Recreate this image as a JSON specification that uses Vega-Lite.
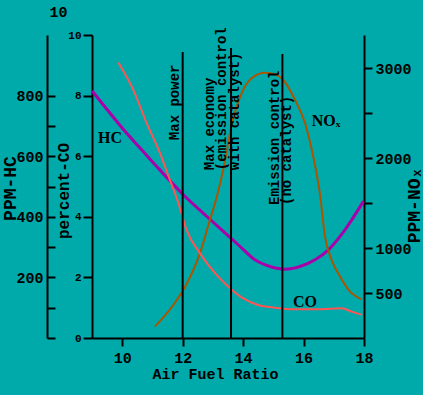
{
  "$schema": "https://vega.github.io/schema/vega-lite/v6.json",
  "width": 272,
  "height": 303,
  "autosize": {"type": "none"},
  "padding": {"left": 92, "top": 35, "right": 59, "bottom": 57},
  "background": "#00AAAA",
  "config": {
    "view": {"stroke": null},
    "axis": {
      "grid": false,
      "domainColor": "black",
      "domainWidth": 2,
      "tickColor": "black",
      "tickWidth": 2,
      "labelColor": "black",
      "titleColor": "black",
      "labelFont": "Liberation Mono",
      "titleFont": "Liberation Mono",
      "labelFontWeight": "bold",
      "titleFontWeight": "bold",
      "labelFlush": false,
      "labelOverlap": false
    }
  },
  "datasets": {
    "hc": [
      {"afr": 9.0, "ppm": 816}, {"afr": 9.37, "ppm": 770}, {"afr": 10.04, "ppm": 688},
      {"afr": 10.59, "ppm": 627}, {"afr": 11.14, "ppm": 566}, {"afr": 12.08, "ppm": 467},
      {"afr": 12.8, "ppm": 401}, {"afr": 13.4, "ppm": 347}, {"afr": 13.9, "ppm": 302},
      {"afr": 14.39, "ppm": 258}, {"afr": 14.89, "ppm": 236}, {"afr": 15.39, "ppm": 227},
      {"afr": 15.88, "ppm": 236}, {"afr": 16.38, "ppm": 258}, {"afr": 16.82, "ppm": 291},
      {"afr": 17.37, "ppm": 357}, {"afr": 17.98, "ppm": 451}
    ],
    "co": [
      {"afr": 9.87, "pct": 9.09}, {"afr": 10.37, "pct": 8.18}, {"afr": 10.81, "pct": 7.09},
      {"afr": 11.25, "pct": 6.1}, {"afr": 11.58, "pct": 5.21}, {"afr": 11.86, "pct": 4.45},
      {"afr": 12.13, "pct": 3.56}, {"afr": 12.57, "pct": 2.8}, {"afr": 13.07, "pct": 2.14},
      {"afr": 13.45, "pct": 1.75}, {"afr": 13.95, "pct": 1.34}, {"afr": 14.5, "pct": 1.09},
      {"afr": 15.06, "pct": 1.0}, {"afr": 15.72, "pct": 0.95}, {"afr": 16.6, "pct": 0.95},
      {"afr": 17.26, "pct": 0.98}, {"afr": 17.59, "pct": 0.87}, {"afr": 17.94, "pct": 0.76}
    ],
    "nox": [
      {"afr": 11.08, "ppm": 126}, {"afr": 11.69, "ppm": 367}, {"afr": 12.08, "ppm": 570},
      {"afr": 12.57, "ppm": 941}, {"afr": 12.9, "ppm": 1311}, {"afr": 13.13, "ppm": 1570},
      {"afr": 13.34, "ppm": 1867}, {"afr": 13.62, "ppm": 2367}, {"afr": 13.95, "ppm": 2719},
      {"afr": 14.28, "ppm": 2886}, {"afr": 14.72, "ppm": 2948}, {"afr": 15.06, "ppm": 2930},
      {"afr": 15.33, "ppm": 2867}, {"afr": 15.72, "ppm": 2644}, {"afr": 16.05, "ppm": 2386},
      {"afr": 16.32, "ppm": 2015}, {"afr": 16.54, "ppm": 1607}, {"afr": 16.71, "ppm": 1126},
      {"afr": 16.93, "ppm": 867}, {"afr": 17.21, "ppm": 681}, {"afr": 17.54, "ppm": 515},
      {"afr": 17.92, "ppm": 430}
    ],
    "markers": [
      {"afr": 12.0, "bottom": 0, "top": 9.44},
      {"afr": 13.6, "bottom": 0, "top": 9.57},
      {"afr": 15.3, "bottom": 0, "top": 9.37}
    ],
    "markerText": [
      {"afr": 11.87, "pos": 6.53, "text": "Max power"},
      {"afr": 13.04, "pos": 5.54, "text": "Max economy"},
      {"afr": 13.45, "pos": 5.54, "text": "(emission control"},
      {"afr": 13.85, "pos": 5.54, "text": "with catalyst)"},
      {"afr": 15.19, "pos": 4.39, "text": "Emission control"},
      {"afr": 15.6, "pos": 4.39, "text": "(no catalyst)"}
    ],
    "curveLabels": [
      {"afr": 9.2, "pos": 6.43, "text": "HC"},
      {"afr": 15.65, "pos": 1.03, "text": "CO"},
      {"afr": 16.27, "pos": 7.0, "text": "NOₓ"}
    ],
    "corner": [
      {"afr": 7.89, "pos": 10.59, "text": "10"}
    ]
  },
  "layer": [
    {
      "data": {"name": "hc"},
      "mark": {"type": "line", "color": "#AA00AA", "strokeWidth": 3, "interpolate": "monotone"},
      "encoding": {
        "x": {"field": "afr", "type": "quantitative", "scale": {"domain": [9, 18]}},
        "y": {
          "field": "ppm", "type": "quantitative",
          "scale": {"domain": [0, 1000], "nice": false},
          "axis": {
            "orient": "left", "offset": 45,
            "values": [0, 100, 200, 300, 400, 500, 600, 700, 800],
            "labelExpr": "datum.value > 0 && datum.value % 200 == 0 ? datum.label : ''",
            "tickSize": -8, "labelPadding": 12, "labelFontSize": 15, "labelBaseline": "middle",
            "title": "PPM-HC", "titleFontSize": 18, "titleX": -32, "titleY": 153,
            "titleAngle": 270, "titleAlign": "center", "titleBaseline": "alphabetic"
          }
        }
      }
    },
    {
      "data": {"name": "nox"},
      "mark": {"type": "line", "color": "#AA5500", "strokeWidth": 2, "interpolate": "monotone"},
      "encoding": {
        "x": {"field": "afr", "type": "quantitative", "scale": {"domain": [9, 18]}},
        "y": {
          "field": "ppm", "type": "quantitative",
          "scale": {"domain": [0, 3367], "nice": false},
          "axis": {
            "orient": "right", "format": "d",
            "values": [500, 1000, 1500, 2000, 2500, 3000],
            "labelExpr": "datum.value == 1500 || datum.value == 2500 ? '' : datum.label",
            "tickSize": 8, "labelPadding": 3, "labelFontSize": 15, "labelBaseline": "middle",
            "title": "PPM-NOₓ", "titleFontSize": 18, "titleX": 55, "titleY": 170,
            "titleAngle": 270, "titleAlign": "center", "titleBaseline": "alphabetic"
          }
        }
      }
    },
    {
      "layer": [
        {
          "data": {"name": "co"},
          "mark": {"type": "line", "color": "#FF5555", "strokeWidth": 2, "interpolate": "monotone"},
          "encoding": {
            "x": {
              "field": "afr", "type": "quantitative", "scale": {"domain": [9, 18]},
              "axis": {
                "values": [10, 11, 12, 13, 14, 15, 16, 17, 18],
                "labelExpr": "datum.value % 2 == 0 ? datum.label : ''",
                "tickSize": 8, "labelPadding": 16, "labelFontSize": 15, "labelBaseline": "alphabetic",
                "title": "Air Fuel Ratio", "titleFontSize": 15, "titleX": 123, "titleY": 40,
                "titleAlign": "center", "titleBaseline": "alphabetic"
              }
            },
            "y": {
              "field": "pct", "type": "quantitative",
              "scale": {"domain": [0, 10], "nice": false},
              "axis": {
                "orient": "left",
                "values": [0, 1, 2, 3, 4, 5, 6, 7, 8, 9, 10],
                "tickSize": 9, "labelPadding": 2, "labelFontSize": 11, "labelBaseline": "middle",
                "title": "percent-CO", "titleFontSize": 16, "titleX": -23.5, "titleY": 155.5,
                "titleAngle": 270, "titleAlign": "center", "titleBaseline": "alphabetic"
              }
            }
          }
        },
        {
          "data": {"name": "markers"},
          "mark": {"type": "rule", "color": "black", "strokeWidth": 2},
          "encoding": {
            "x": {"field": "afr", "type": "quantitative"},
            "y": {"field": "bottom", "type": "quantitative", "title": "percent-CO"},
            "y2": {"field": "top"}
          }
        },
        {
          "data": {"name": "markerText"},
          "mark": {"type": "text", "angle": 270, "align": "left", "baseline": "alphabetic", "font": "Liberation Mono", "fontWeight": "bold", "fontSize": 14, "color": "black"},
          "encoding": {
            "x": {"field": "afr", "type": "quantitative"},
            "y": {"field": "pos", "type": "quantitative", "title": "percent-CO"},
            "text": {"field": "text"}
          }
        },
        {
          "data": {"name": "curveLabels"},
          "mark": {"type": "text", "align": "left", "baseline": "alphabetic", "font": "Liberation Serif", "fontWeight": "bold", "fontSize": 16, "color": "black"},
          "encoding": {
            "x": {"field": "afr", "type": "quantitative"},
            "y": {"field": "pos", "type": "quantitative", "title": "percent-CO"},
            "text": {"field": "text"}
          }
        },
        {
          "data": {"name": "corner"},
          "mark": {"type": "text", "align": "center", "baseline": "alphabetic", "font": "Liberation Mono", "fontWeight": "bold", "fontSize": 15, "color": "black"},
          "encoding": {
            "x": {"field": "afr", "type": "quantitative"},
            "y": {"field": "pos", "type": "quantitative", "title": "percent-CO"},
            "text": {"field": "text"}
          }
        }
      ]
    }
  ],
  "resolve": {"scale": {"y": "independent"}, "axis": {"y": "independent"}}
}
